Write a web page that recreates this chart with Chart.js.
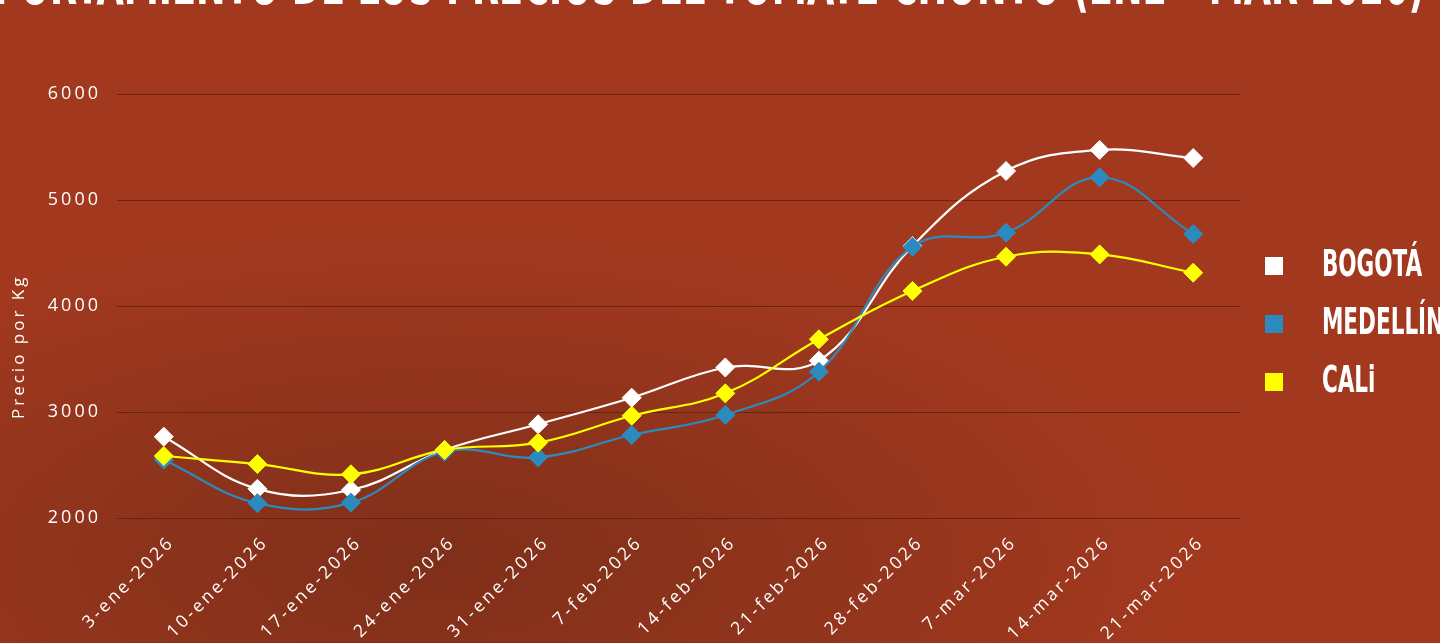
<!DOCTYPE html>
<html>
<head>
<meta charset="utf-8">
<script src="https://cdn.jsdelivr.net/npm/chart.js@4.4.1/dist/chart.umd.min.js"></script>
<style>
html,body{margin:0;padding:0;}
body{width:1440px;height:643px;overflow:hidden;position:relative;
  background:radial-gradient(ellipse 760px 330px at 430px 560px, rgba(104,40,22,0.6), rgba(104,40,22,0) 100%), #A2391F;}
#titulo{position:absolute;left:664px;top:-48px;margin:0;white-space:nowrap;color:#fff;
  font:bold 62px/62px "DejaVu Sans Condensed","DejaVu Sans",sans-serif;
  transform:translateX(-50%) scaleX(0.632);}
#caja{position:absolute;left:0;top:0;width:1440px;height:643px;}
</style>
</head>
<body>
<h1 id="titulo">COMPORTAMIENTO DE LOS PRECIOS DEL TOMATE CHONTO (ENE – MAR 2026)</h1>
<div id="caja"><canvas id="grafica"></canvas></div>
<script>
const fechas = ['3-ene-2026','10-ene-2026','17-ene-2026','24-ene-2026','31-ene-2026','7-feb-2026',
                '14-feb-2026','21-feb-2026','28-feb-2026','7-mar-2026','14-mar-2026','21-mar-2026'];
const bogota   = [2767, 2275, 2264, 2642, 2884, 3135, 3420, 3484, 4566, 5274, 5472, 5396];
const medellin = [2550, 2140, 2145, 2625, 2572, 2783, 2972, 3380, 4560, 4692, 5214, 4679];
const cali     = [2585, 2509, 2412, 2642, 2711, 2965, 3176, 3686, 4142, 4465, 4487, 4314];
const ciudades = ['BOGOTÁ', 'MEDELLÍN', 'CALi'];
const colores  = ['#FFFFFF', '#2B8BBE', '#FFFF00'];
const ticksY   = [2000, 3000, 4000, 5000, 6000];

const fuente = "'Open Sans', sans-serif";
const fuenteLeyenda = "'DejaVu Sans Condensed', 'DejaVu Sans', sans-serif";
const ANGOSTO = 0.63;   // compresion horizontal de la leyenda

// cuadrito de color para la leyenda (desplazado dentro del lienzo)
function cuadro(color) {
    var c = document.createElement('canvas');
    c.width = 60; c.height = 18;
    var x = c.getContext('2d');
    x.fillStyle = color;
    x.fillRect(4, 0, 29, 18);
    return c;
}
const cuadros = colores.map(cuadro);

// letras espaciadas en ejes, leyenda angosta y sin espaciado
const espaciado = {
    id: 'espaciado',
    afterLayout(chart) {
        var lg = chart.legend;
        if (lg && !lg._envuelto) {
            var orig = lg.draw;
            lg.draw = function () {
                var c = this.ctx, s = c.letterSpacing, r = this.right;
                this.right = this.left + (r - this.left) / ANGOSTO;
                c.save();
                c.letterSpacing = '0px';
                c.translate(this.left, 0);
                c.scale(ANGOSTO, 1);
                c.translate(-this.left, 0);
                orig.apply(this, arguments);
                c.restore();
                c.letterSpacing = s;
                this.right = r;
            };
            lg._envuelto = true;
        }
    },
    beforeDraw(chart) { chart.ctx.letterSpacing = '3px'; },
    afterDraw(chart) { chart.ctx.letterSpacing = '0px'; }
};

function serie(i, datos, orden) {
    return {
        label: ciudades[i],
        data: datos,
        borderColor: colores[i],
        backgroundColor: colores[i],
        pointBackgroundColor: colores[i],
        pointBorderColor: colores[i],
        borderWidth: 2.2,
        pointStyle: 'rectRot',
        pointRadius: 9.5,
        pointHoverRadius: 9.5,
        pointBorderWidth: 1,
        tension: 0.4,
        fill: false,
        order: orden
    };
}

const config = {
    type: 'line',
    data: {
        labels: fechas,
        datasets: [serie(0, bogota, 3), serie(1, medellin, 2), serie(2, cali, 1)]
    },
    options: {
        responsive: true,
        maintainAspectRatio: false,
        animation: false,
        layout: { padding: { top: 94, left: 0, right: 0, bottom: 0 } },
        plugins: {
            tooltip: { enabled: false },
            legend: {
                position: 'right',
                fullSize: false,
                maxWidth: 200,
                title: { display: true, text: ' ', color: 'rgba(0,0,0,0)', font: { size: 10 }, padding: 12 },
                labels: {
                    usePointStyle: true,
                    pointStyleWidth: 91,
                    boxHeight: 18,
                    padding: 20,
                    color: '#FFFFFF',
                    font: { family: fuenteLeyenda, size: 38, weight: 'bold' },
                    sort: (a, b) => a.datasetIndex - b.datasetIndex,
                    generateLabels(chart) {
                        var items = Chart.defaults.plugins.legend.labels.generateLabels(chart);
                        items.forEach(it => { it.pointStyle = cuadros[it.datasetIndex]; });
                        return items;
                    }
                }
            }
        },
        scales: {
            x: {
                offset: true,
                afterFit(axis) { axis.height = 125; },
                grid: { display: false, drawTicks: false },
                border: { display: false },
                ticks: {
                    autoSkip: false,
                    maxRotation: 45,
                    minRotation: 45,
                    padding: 14,
                    labelOffset: 8,
                    color: '#FFFFFF',
                    font: { family: fuente, size: 17.5 }
                }
            },
            y: {
                min: 2000,
                max: 6000,
                afterFit(axis) { axis.width = 117; },
                afterBuildTicks(axis) { axis.ticks = ticksY.map(v => ({ value: v })); },
                grid: { color: 'rgba(90,30,14,0.75)', lineWidth: 1, drawTicks: false },
                border: { display: false },
                ticks: {
                    padding: 16,
                    color: '#FFFFFF',
                    font: { family: fuente, size: 18 },
                    callback: v => String(v)
                },
                title: {
                    display: true,
                    text: 'Precio por Kg' + '\u00A0'.repeat(11),
                    color: '#FFFFFF',
                    font: { family: fuente, size: 17 },
                    padding: { top: 9, bottom: 4 }
                }
            }
        }
    },
    plugins: [espaciado]
};

const grafica = new Chart(document.getElementById('grafica'), config);
</script>
</body>
</html>
